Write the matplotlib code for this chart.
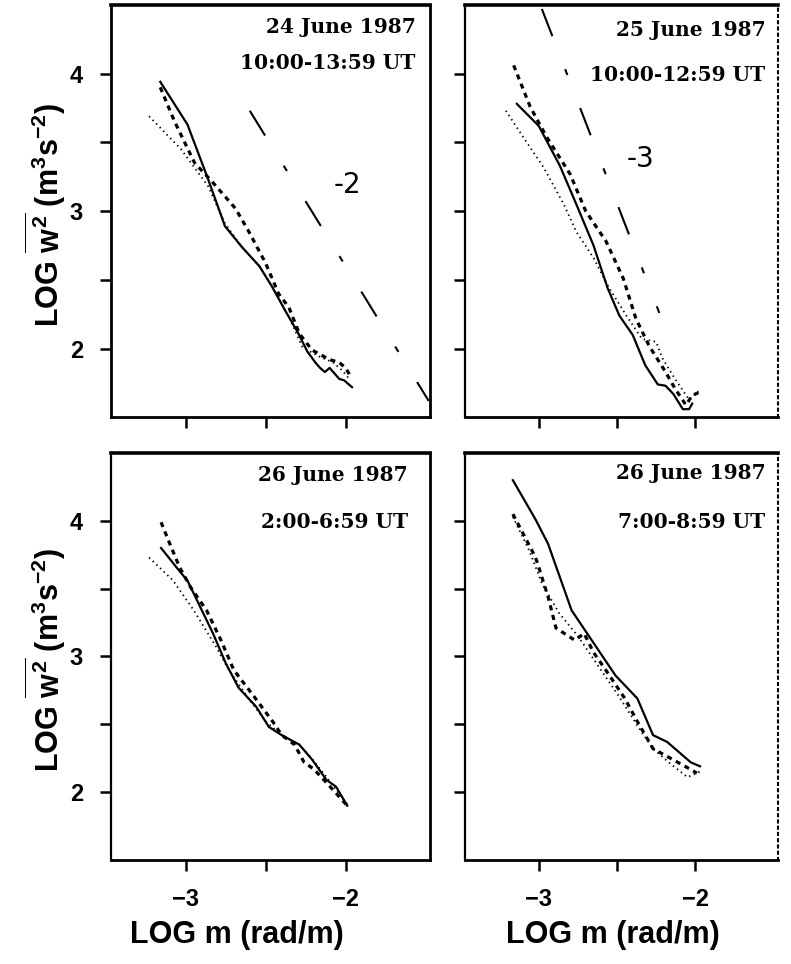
import numpy as np
import matplotlib.pyplot as plt
from matplotlib.ticker import FixedLocator

plt.rcParams["mathtext.fontset"] = "custom"
plt.rcParams["mathtext.rm"] = "Liberation Sans:bold"
plt.rcParams["mathtext.it"] = "Liberation Sans:bold"
plt.rcParams["mathtext.bf"] = "Liberation Sans:bold"

# ---- 24 June 1987, 10:00-13:59 UT
jun24_solid_x = [-3.16, -2.99, -2.86, -2.755, -2.65, -2.54, -2.46, -2.375, -2.30, -2.24, -2.19, -2.16, -2.13, -2.10, -2.07, -2.04, -2.01, -1.98, -1.96]
jun24_solid_y = [3.94, 3.63, 3.23, 2.89, 2.74, 2.60, 2.45, 2.27, 2.12, 1.98, 1.90, 1.86, 1.83, 1.86, 1.82, 1.78, 1.77, 1.74, 1.72]
jun24_dash_x = [-3.16, -3.07, -2.945, -2.84, -2.69, -2.61, -2.50, -2.42, -2.355, -2.29, -2.21, -2.10, -2.04, -2.00, -1.97]
jun24_dash_y = [3.90, 3.65, 3.35, 3.22, 3.02, 2.86, 2.62, 2.40, 2.30, 2.11, 1.99, 1.92, 1.90, 1.86, 1.80]
jun24_dot_x = [-3.23, -3.03, -2.86, -2.755, -2.65, -2.54, -2.46, -2.355, -2.27, -2.16, -2.08, -2.02, -1.97]
jun24_dot_y = [3.69, 3.45, 3.18, 2.91, 2.74, 2.60, 2.45, 2.23, 2.01, 1.94, 1.90, 1.84, 1.77]
jun24_ref_x = [-2.60, -1.48]
jun24_ref_y = [3.73, 1.62]

# ---- 25 June 1987, 10:00-12:59 UT
jun25_solid_x = [-3.14, -3.00, -2.865, -2.76, -2.65, -2.56, -2.485, -2.40, -2.32, -2.24, -2.19, -2.14, -2.08, -2.04, -2.02]
jun25_solid_y = [3.78, 3.62, 3.33, 3.05, 2.75, 2.44, 2.24, 2.10, 1.88, 1.74, 1.73, 1.67, 1.56, 1.56, 1.60]
jun25_dash_x = [-3.16, -3.055, -2.95, -2.80, -2.70, -2.57, -2.46, -2.38, -2.295, -2.19, -2.13, -2.06, -2.02, -1.98]
jun25_dash_y = [4.06, 3.76, 3.54, 3.27, 3.00, 2.78, 2.51, 2.22, 2.02, 1.83, 1.71, 1.59, 1.66, 1.68]
jun25_dot_x = [-3.21, -3.10, -2.97, -2.84, -2.76, -2.65, -2.55, -2.44, -2.34, -2.25, -2.21, -2.13, -2.04, -1.98]
jun25_dot_y = [3.73, 3.54, 3.32, 3.05, 2.85, 2.66, 2.44, 2.24, 2.07, 2.05, 1.93, 1.78, 1.63, 1.69]
jun25_ref_x = [-2.98, -2.23]
jun25_ref_y = [4.47, 2.26]

# ---- 26 June 1987, 2:00-6:59 UT
jun26a_solid_x = [-3.155, -3.04, -2.99, -2.92, -2.83, -2.75, -2.67, -2.56, -2.48, -2.40, -2.29, -2.21, -2.12, -2.06, -1.99]
jun26a_solid_y = [3.80, 3.63, 3.56, 3.39, 3.17, 2.95, 2.77, 2.63, 2.48, 2.42, 2.35, 2.24, 2.09, 2.04, 1.90]
jun26a_dash_x = [-3.155, -3.10, -3.04, -2.97, -2.87, -2.78, -2.70, -2.57, -2.45, -2.40, -2.32, -2.26, -2.20, -2.12, -1.99]
jun26a_dash_y = [3.99, 3.83, 3.66, 3.51, 3.34, 3.12, 2.90, 2.70, 2.51, 2.42, 2.35, 2.22, 2.17, 2.07, 1.90]
jun26a_dot_x = [-3.23, -3.08, -2.95, -2.81, -2.73, -2.62, -2.50, -2.40, -2.29, -2.20, -2.10, -1.99]
jun26a_dot_y = [3.73, 3.56, 3.34, 3.07, 2.90, 2.71, 2.52, 2.42, 2.35, 2.23, 2.08, 1.91]

# ---- 26 June 1987, 7:00-8:59 UT
jun26b_solid_x = [-3.165, -3.02, -2.94, -2.79, -2.65, -2.51, -2.37, -2.27, -2.18, -2.11, -2.03, -1.97]
jun26b_solid_y = [4.30, 4.01, 3.83, 3.34, 3.10, 2.86, 2.69, 2.42, 2.37, 2.30, 2.22, 2.19]
jun26b_dash_x = [-3.165, -3.02, -2.94, -2.89, -2.77, -2.71, -2.65, -2.56, -2.45, -2.37, -2.27, -2.16, -2.05, -1.99]
jun26b_dash_y = [4.05, 3.73, 3.44, 3.21, 3.12, 3.17, 3.03, 2.88, 2.69, 2.52, 2.32, 2.25, 2.18, 2.14]
jun26b_dot_x = [-3.165, -3.06, -2.98, -2.87, -2.75, -2.62, -2.49, -2.37, -2.27, -2.16, -2.05, -1.97]
jun26b_dot_y = [4.03, 3.78, 3.54, 3.32, 3.15, 2.93, 2.71, 2.49, 2.32, 2.21, 2.11, 2.15]

dates = ["24 June 1987", "25 June 1987", "26 June 1987", "26 June 1987"]
times = ["10:00-13:59 UT", "10:00-12:59 UT", "2:00-6:59 UT", "7:00-8:59 UT"]

panels = [
    (jun24_solid_x, jun24_solid_y, jun24_dash_x, jun24_dash_y, jun24_dot_x, jun24_dot_y),
    (jun25_solid_x, jun25_solid_y, jun25_dash_x, jun25_dash_y, jun25_dot_x, jun25_dot_y),
    (jun26a_solid_x, jun26a_solid_y, jun26a_dash_x, jun26a_dash_y, jun26a_dot_x, jun26a_dot_y),
    (jun26b_solid_x, jun26b_solid_y, jun26b_dash_x, jun26b_dash_y, jun26b_dot_x, jun26b_dot_y),
]

fig = plt.figure(figsize=(7.91, 9.64), dpi=100)

# axes boxes (left, bottom, width, height) in figure fraction
boxes = [
    [0.140, 0.567, 0.404, 0.428],
    [0.588, 0.567, 0.396, 0.428],
    [0.140, 0.108, 0.404, 0.422],
    [0.588, 0.108, 0.396, 0.422],
]
date_pos = [(0.953, 0.947, 0.859), (0.958, 0.940, 0.830),
            (0.930, 0.946, 0.830), (0.958, 0.950, 0.830)]

tick_font = dict(family="Liberation Sans", weight="bold", size=17)
axes = []
for i, box in enumerate(boxes):
    ax = fig.add_axes(box)
    axes.append(ax)
    sx, sy, dx, dy, ox, oy = panels[i]
    ax.plot(sx, sy, color="black", lw=1.6, solid_joinstyle="round")
    ax.plot(dx, dy, color="black", lw=2.3, linestyle=(0, (1.6, 1.5)))
    ax.plot(ox, oy, color="black", lw=1.3, linestyle=(0, (0.8, 2.0)))

    ax.set_xlim(-3.47, -1.47)
    ax.set_ylim(1.5, 4.5)
    ax.xaxis.set_major_locator(FixedLocator([-3, -2]))
    ax.xaxis.set_minor_locator(FixedLocator([-2.5]))
    ax.yaxis.set_major_locator(FixedLocator([2, 3, 4]))
    ax.yaxis.set_minor_locator(FixedLocator([2.5, 3.5]))
    ax.tick_params(which="both", direction="out", length=8, width=1.8, pad=12)

    if i % 2 == 0:
        ax.set_yticklabels(["2", "3", "4"], fontdict=tick_font)
    else:
        ax.set_yticklabels([])
    if i >= 2:
        ax.set_xticklabels(["\u22123", "\u22122"], fontdict=tick_font)
    else:
        ax.set_xticklabels([])

    for s in ax.spines.values():
        s.set_linewidth(2.0)
    ax.spines["top"].set_linewidth(2.6)
    if i % 2 == 1:
        ax.spines["right"].set_linestyle((0, (1, 2)))
        ax.spines["right"].set_linewidth(1.5)
        ax.spines["left"].set_linestyle((0, (6, 1, 1, 1)))
        ax.spines["left"].set_linewidth(1.6)
    if i == 2:
        ax.spines["left"].set_linestyle((0, (2, 1)))
        ax.spines["left"].set_linewidth(1.6)

    xr, yd, yt = date_pos[i]
    ax.text(xr, yd, dates[i], transform=ax.transAxes, ha="right", va="center",
            family="DejaVu Serif", weight="bold", fontsize=14.5)
    ax.text(xr, yt, times[i], transform=ax.transAxes, ha="right", va="center",
            family="DejaVu Serif", weight="bold", fontsize=14.5)

# slope reference lines with hand-written slope labels
dash_ref = (0, (14, 17, 3, 17))
axes[0].plot(jun24_ref_x, jun24_ref_y, color="black", lw=1.5, linestyle=dash_ref)
axes[1].plot(jun25_ref_x, jun25_ref_y, color="black", lw=1.5, linestyle=dash_ref)
axes[0].text(-1.99, 3.19, "-2", fontsize=20, ha="center", va="center", family="DejaVu Sans")
axes[1].text(-2.35, 3.38, "-3", fontsize=20, ha="center", va="center", family="DejaVu Sans")

ylab = r"LOG $\overline{w^2}$ (m$^3$s$^{-2}$)"
label_font = dict(family="Liberation Sans", weight="bold", fontsize=22)
fig.text(0.057, 1 - 215 / 964, ylab, rotation=90, ha="center", va="center", **label_font)
fig.text(0.057, 1 - 660 / 964, ylab, rotation=90, ha="center", va="center", **label_font)
fig.text(237 / 791, 1 - 935 / 964, "LOG m (rad/m)", ha="center", va="center", **label_font)
fig.text(613 / 791, 1 - 935 / 964, "LOG m (rad/m)", ha="center", va="center", **label_font)

fig.savefig("out.png", dpi=100)
